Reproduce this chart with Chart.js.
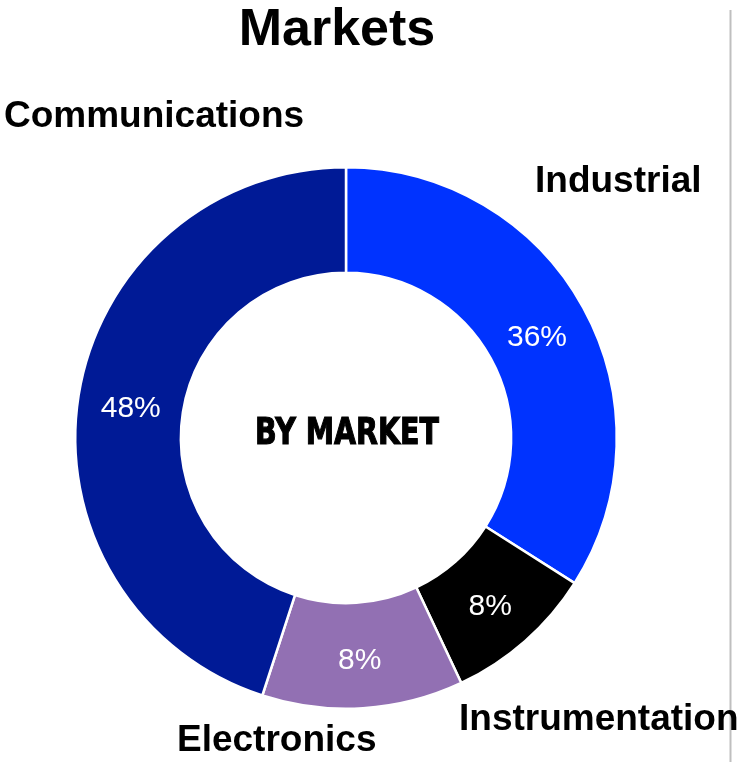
<!DOCTYPE html>
<html>
<head>
<meta charset="utf-8">
<script src="https://cdn.jsdelivr.net/npm/chart.js@4.4.0/dist/chart.umd.min.js"></script>
<style>
  html, body { margin: 0; padding: 0; background: #ffffff; }
  #wrap { position: relative; width: 742px; height: 762px; }
</style>
</head>
<body>
<div id="wrap"><canvas id="c"></canvas></div>
<script>
// ---- data ----
const categories = ["Industrial", "Instrumentation", "Electronics", "Communications"];
const shares = [34, 9, 12, 45];                 // slice sizes as drawn
const percentLabels = ["36%", "8%", "8%", "48%"]; // labels printed on slices
const sliceColors = ["#0033ff", "#000000", "#9270b3", "#001a96"];
const chartTitle = "Markets";
const centerText = "BY MARKET";

// ---- layout for outer category labels (left x, baseline y) ----
const outerLabelPos = [
  [535, 192],
  [459, 730],
  [177, 751],
  [4, 127]
];

const overlay = {
  id: 'overlay',
  afterDraw(chart) {
    const ctx = chart.ctx;
    ctx.save();
    // vertical separator line
    ctx.strokeStyle = '#bfbfbf';
    ctx.lineWidth = 2;
    ctx.beginPath();
    ctx.moveTo(730.5, 10);
    ctx.lineTo(730.5, 762);
    ctx.stroke();

    // title
    ctx.fillStyle = '#000';
    ctx.textAlign = 'center';
    ctx.textBaseline = 'alphabetic';
    ctx.font = 'bold 52px "Liberation Sans", Arial, sans-serif';
    ctx.fillText(chartTitle, 337, 45);

    // center text (condensed heavy)
    const meta = chart.getDatasetMeta(0);
    const arc0 = meta.data[0];
    ctx.font = 'bold 37px "DejaVu Sans", sans-serif';
    const w = ctx.measureText(centerText).width;
    const targetW = 184;
    ctx.save();
    ctx.translate(arc0.x + 1, arc0.y + 6);
    ctx.scale(targetW / w, 1);
    ctx.lineWidth = 1.2;
    ctx.strokeStyle = '#000';
    ctx.fillText(centerText, 0, 0);
    ctx.strokeText(centerText, 0, 0);
    ctx.restore();

    // percent labels
    ctx.fillStyle = '#ffffff';
    ctx.font = '30px "Liberation Sans", Arial, sans-serif';
    ctx.textBaseline = 'middle';
    meta.data.forEach((arc, i) => {
      const p = arc.tooltipPosition();
      ctx.fillText(percentLabels[i], p.x, p.y + 5);
    });

    // outer category labels
    ctx.fillStyle = '#000';
    ctx.textAlign = 'left';
    ctx.textBaseline = 'alphabetic';
    ctx.font = 'bold 37px "Liberation Sans", Arial, sans-serif';
    categories.forEach((c, i) => {
      ctx.fillText(c, outerLabelPos[i][0], outerLabelPos[i][1]);
    });
    ctx.restore();
  }
};

new Chart(document.getElementById('c'), {
  type: 'doughnut',
  data: {
    labels: categories,
    datasets: [{
      data: shares,
      backgroundColor: sliceColors,
      borderColor: '#ffffff',
      borderWidth: 2.5,
      hoverOffset: 0
    }]
  },
  options: {
    responsive: true,
    maintainAspectRatio: false,
    animation: false,
    cutout: '61%',
    layout: { padding: { left: 74, right: 124, top: 166, bottom: 52 } },
    plugins: {
      legend: { display: false },
      tooltip: { enabled: false },
      title: { display: false }
    },
    events: []
  },
  plugins: [overlay]
});
</script>
</body>
</html>
